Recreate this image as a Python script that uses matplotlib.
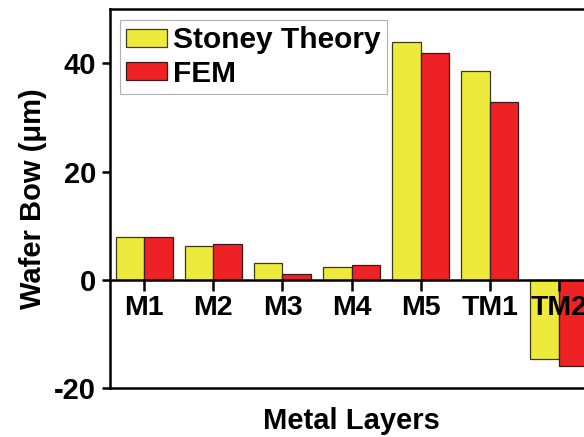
import numpy as np
import matplotlib
matplotlib.use("Agg")
import matplotlib.pyplot as plt

layers = ["M1", "M2", "M3", "M4", "M5", "TM1", "TM2"]
stoney = [7.9, 6.2, 3.1, 2.4, 44.0, 38.5, -14.6]
fem = [7.9, 6.6, 1.0, 2.7, 41.9, 32.9, -15.9]

plt.rcParams["font.family"] = ["Liberation Sans", "DejaVu Sans"]
plt.rcParams["font.weight"] = "bold"
plt.rcParams["axes.unicode_minus"] = False

fig = plt.figure(figsize=(5.84, 4.37), dpi=100)
ax = fig.add_axes([0.188, 0.112, 0.828, 0.867])
ax.set_axisbelow(False)

x = np.arange(len(layers))
w = 0.41
ax.bar(x - w / 2, stoney, w, color="#EEEA3C", edgecolor="#3a3a1a", linewidth=0.9,
       label="Stoney Theory", zorder=1)
ax.bar(x + w / 2, fem, w, color="#EE2124", edgecolor="#3a1a1a", linewidth=0.9,
       label="FEM", zorder=1)

ax.set_xlim(-0.5, 6.5)
ax.set_ylim(-20, 50)
ax.set_yticks([-20, 0, 20, 40])
ax.set_xticks(x)
ax.set_xticklabels(layers)

# x axis sits at zero, frame drawn around
ax.spines["bottom"].set_position(("data", 0))
for s in ax.spines.values():
    s.set_linewidth(1.8)
ax.axhline(-20, color="black", linewidth=1.8, clip_on=False, zorder=3)

ax.tick_params(axis="y", direction="out", length=6, width=1.8, labelsize=21, pad=4)
ax.tick_params(axis="x", direction="out", length=8, width=1.8, labelsize=20.5, pad=3)
ax.tick_params(right=False, top=False)

ax.set_ylabel("Wafer Bow (\u03bcm)", fontsize=21, fontweight="bold", labelpad=5)
ax.set_xlabel("Metal Layers", fontsize=21, fontweight="bold")
ax.xaxis.set_label_coords(0.5, -0.05)

leg = ax.legend(loc="upper left", bbox_to_anchor=(0.205, 0.954),
                bbox_transform=fig.transFigure, borderaxespad=0,
                fontsize=21.5, handlelength=1.4, handleheight=0.55,
                handletextpad=0.2, labelspacing=0.2, borderpad=0.2,
                fancybox=False, edgecolor="#b0b0b0", framealpha=1)
leg.get_frame().set_linewidth(0.8)

fig.savefig("out.png", dpi=100)
